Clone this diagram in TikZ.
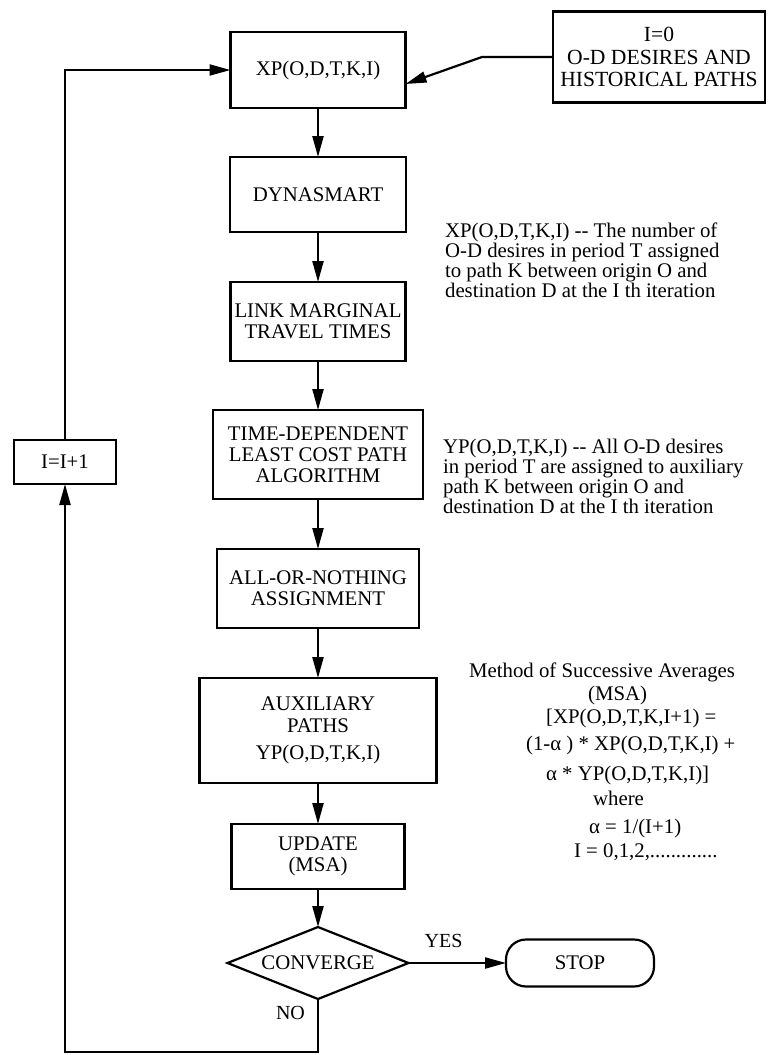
\documentclass[tikz,border=0pt]{standalone}
\usepackage{fontspec}
\setmainfont{Liberation Serif}
\usetikzlibrary{positioning, arrows.meta, shapes.geometric}

\tikzset{
  box/.style={draw, align=center, inner sep=0pt, outer sep=0pt, font=\fontsize{10.4}{10.6}\selectfont},
  note/.style={align=left, anchor=base west, inner sep=0pt, font=\fontsize{10.4}{10}\selectfont},
  msa/.style={anchor=base west, inner sep=0pt, font=\fontsize{10.4}{10}\selectfont},
}

\begin{document}
\begin{tikzpicture}[x=0.5pt, y=-0.5pt, >={Triangle[length=10.5pt,width=5.5pt]},
    line width=1.1pt, node distance=25pt]
    \useasboundingbox (0,0) rectangle (767,1055);

    % main column
    \node[box, minimum width=87.5pt, minimum height=38pt] (xp) at (318,70) {XP(O,D,T,K,I)};
    \node[box, minimum width=88pt, minimum height=37.5pt, below=24.5pt of xp] (dyna) {DYNASMART};
    \node[box, minimum width=87.5pt, minimum height=39.5pt, below=of dyna] (lmtt) {LINK MARGINAL\\TRAVEL TIMES};
    \node[box, minimum width=105pt, minimum height=44.5pt, below=24.5pt of lmtt] (tdlcp) {TIME-DEPENDENT\\LEAST COST PATH\\ALGORITHM};
    \node[box, minimum width=101pt, minimum height=39.5pt, below=of tdlcp] (aon) {ALL-OR-NOTHING\\ASSIGNMENT};
    \node[box, minimum width=118.5pt, minimum height=52.5pt, below=of aon] (aux) {AUXILIARY\\PATHS\\[3pt]YP(O,D,T,K,I)};
    \node[box, minimum width=86.5pt, minimum height=32.5pt, below=20.5pt of aux] (upd) {UPDATE\\(MSA)};
    \node[box, diamond, aspect=2.5, minimum width=90.5pt, minimum height=36pt, below=19pt of upd] (conv) {CONVERGE};
    \node[box, rounded corners=10pt, minimum width=74pt, minimum height=23.5pt] (stop) at (conv.east -| 580,0) {STOP};

    % side boxes
    \node[box, minimum width=106pt, minimum height=45.5pt, font=\fontsize{10.8}{11.4}\selectfont] (init) at (659,57) {I=0\\O-D DESIRES AND\\HISTORICAL PATHS};
    \node[box, minimum width=51pt, minimum height=22pt] (inc) at (65,462) {I=I+1};

    \coordinate (kink) at (482,57);
    \coordinate (bot) at (318,1052);

    \path[->]
    (xp) edge (dyna)
    (dyna) edge (lmtt)
    (lmtt) edge (tdlcp)
    (tdlcp) edge (aon)
    (aon) edge (aux)
    (aux) edge (upd)
    (upd) edge (conv)
    (conv) edge node[above=7pt, pos=0.36, inner sep=0pt] {YES} (stop);

    \draw[->] (init.west) -- (kink) -- ([yshift=12pt]xp.south east);
    \draw[->] (conv.south) -- node[left=6pt, pos=0.26, inner sep=0pt] {NO} (bot) -- (inc |- bot) -- (inc.south);
    \draw[->] (inc.north) |- (xp.west);

    % notes
    \node[note] (xpnote) at (444,297) {XP(O,D,T,K,I) -{}- The number of\\O-D desires in period T assigned\\to path K between origin O and\\destination D at the I th iteration};
    \node[note] (ypnote) at (442,513) {YP(O,D,T,K,I) -{}- All O-D desires\\in period T are assigned to auxiliary\\path K between origin O and\\destination D at the I th iteration};

    \node[msa] (msa1) at (468,677) {Method of Successive Averages};
    \node[msa] (msa2) at (587,700) {(MSA)};
    \node[msa] (msa3) at (545,723) {[XP(O,D,T,K,I+1) =};
    \node[msa] (msa4) at (525,750) {(1-α ) * XP(O,D,T,K,I) +};
    \node[msa] (msa5) at (545,780) {α * YP(O,D,T,K,I)]};
    \node[msa] (msa6) at (592,805) {where};
    \node[msa] (msa7) at (588,833) {α = 1/(I+1)};
    \node[msa] (msa8) at (573,857) {I = 0,1,2,.............};
\end{tikzpicture}
\end{document}
